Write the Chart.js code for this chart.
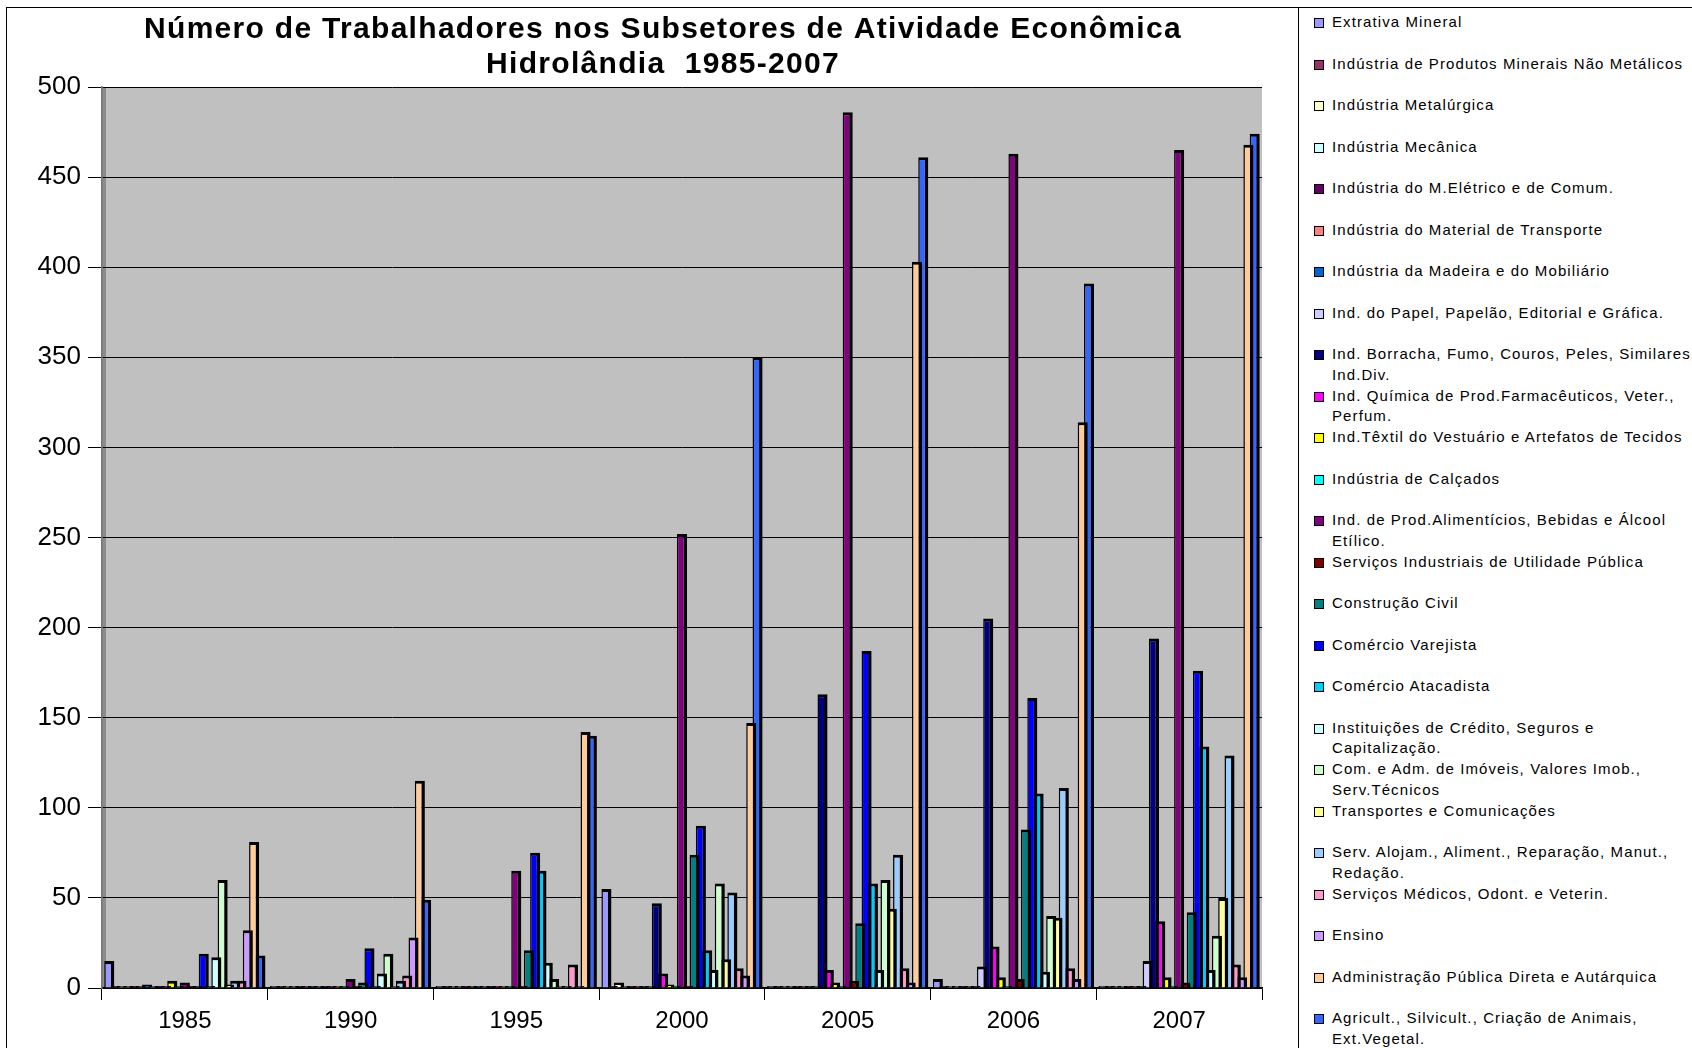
<!DOCTYPE html>
<html>
<head>
<meta charset="utf-8">
<script src="https://cdn.jsdelivr.net/npm/chart.js@4.4.0/dist/chart.umd.min.js"></script>
<style>
  body { margin: 0; background: #fff; font-family: "Liberation Sans", Arial, sans-serif; overflow: hidden; }
  #frame { position: absolute; left: 6px; top: 7px; width: 1292px; height: 1060px; border-left: 1.5px solid #000; border-top: 1.5px solid #000; }
  #wrap { position: absolute; left: 0; top: 0; width: 1298px; height: 1048px; }
  #legend { position: absolute; left: 1298px; top: 7px; width: 420px; height: 1060px; border: 1.5px solid #000; background: #fff; }
  .item { position: absolute; left: 0; height: 41px; }
  .box { position: absolute; left: 15px; top: 6px; width: 8px; height: 8px; border: 1.5px solid #000; }
  .txt { position: absolute; left: 33px; top: 0; font-size: 15px; line-height: 20.5px; white-space: pre; color: #000; letter-spacing: 1.1px; }
</style>
</head>
<body>
<div id="frame"></div>
<div id="wrap"><canvas id="chart" width="1298" height="1048"></canvas></div>
<div id="legend"></div>
<script>
const titleLines = ['Número de Trabalhadores nos Subsetores de Atividade Econômica', 'Hidrolândia  1985-2007'];

const years = ['1985', '1990', '1995', '2000', '2005', '2006', '2007'];

const sectors = [
    'Extrativa Mineral',
    'Indústria de Produtos Minerais Não Metálicos',
    'Indústria Metalúrgica',
    'Indústria Mecânica',
    'Indústria do M.Elétrico e de Comum.',
    'Indústria do Material de Transporte',
    'Indústria da Madeira e do Mobiliário',
    'Ind. do Papel, Papelão, Editorial e Gráfica.',
    'Ind. Borracha, Fumo, Couros, Peles, Similares,\nInd.Div.',
    'Ind. Química de Prod.Farmacêuticos, Veter.,\nPerfum.',
    'Ind.Têxtil do Vestuário e Artefatos de Tecidos',
    'Indústria de Calçados',
    'Ind. de Prod.Alimentícios, Bebidas e Álcool\nEtílico.',
    'Serviços Industriais de Utilidade Pública',
    'Construção Civil',
    'Comércio Varejista',
    'Comércio Atacadista',
    'Instituições de Crédito, Seguros e\nCapitalização.',
    'Com. e Adm. de Imóveis, Valores Imob.,\nServ.Técnicos',
    'Transportes e Comunicações',
    'Serv. Alojam., Aliment., Reparação, Manut.,\nRedação.',
    'Serviços Médicos, Odont. e Veterin.',
    'Ensino',
    'Administração Pública Direta e Autárquica',
    'Agricult., Silvicult., Criação de Animais,\nExt.Vegetal.'
];

const colors = [
    '#9999FF', '#993366', '#FFFFCC', '#CCFFFF', '#660066',
    '#FF8080', '#0066CC', '#CCCCFF', '#000080', '#FF00FF',
    '#FFFF00', '#00FFFF', '#800080', '#800000', '#008080',
    '#0000FF', '#00CCFF', '#CCFFFF', '#CCFFCC', '#FFFF99',
    '#99CCFF', '#FF99CC', '#CC99FF', '#FFCC99', '#3366FF'
];

// one value per sector, in the order of the sectors list
const v1985 = [15, 0, 0, 0, 0, 0, 2, 0, 0, 0, 4, 0, 3, 0, 0, 19, 0, 17, 60, 2, 4, 4, 32, 81, 18];
const v1990 = [0, 0, 1, 0, 0, 0, 0, 0, 0, 0, 0, 0, 5, 0, 3, 22, 0, 8, 19, 0, 4, 7, 28, 115, 49];
const v1995 = [0, 0, 0, 0, 0, 0, 0, 0, 1, 0, 0, 0, 65, 0, 21, 75, 65, 14, 5, 0, 1, 13, 1, 142, 140];
const v2000 = [55, 0, 3, 0, 0, 0, 0, 1, 47, 8, 2, 0, 252, 1, 74, 90, 21, 10, 58, 16, 53, 11, 7, 147, 350];
const v2005 = [0, 0, 0, 0, 0, 0, 0, 0, 163, 10, 3, 0, 486, 4, 36, 187, 58, 10, 60, 44, 74, 11, 3, 403, 461];
const v2006 = [5, 0, 0, 0, 0, 0, 0, 12, 205, 23, 6, 0, 463, 5, 88, 161, 108, 9, 40, 39, 111, 11, 5, 314, 391];
const v2007 = [1, 0, 0, 0, 0, 0, 0, 15, 194, 37, 6, 0, 465, 3, 42, 176, 134, 10, 29, 50, 129, 13, 6, 468, 474];

const byYear = [v1985, v1990, v1995, v2000, v2005, v2006, v2007];

let datasets = [];
for (let i = 0; i < sectors.length; i++) {
    datasets.push({
        label: sectors[i],
        data: byYear.map(row => row[i]),
        backgroundColor: colors[i],
        borderColor: '#000',
        borderWidth: {left: 1.5, top: 3, right: 3.5, bottom: 0},
        borderSkipped: 'start',
        barPercentage: 1.6,
        categoryPercentage: 0.95,
        minBarLength: 2
    });
}

const plotBg = {
    id: 'plotBg',
    beforeDraw(chart) {
        const {ctx, chartArea: a} = chart;
        ctx.save();
        ctx.fillStyle = '#C0C0C0';
        ctx.fillRect(a.left, a.top, a.right - a.left, a.bottom - a.top);
        ctx.fillStyle = '#8c8c8c';
        ctx.fillRect(a.left, a.top, 4, a.bottom - a.top);
        ctx.restore();
    }
};

const titleText = {
    id: 'titleText',
    afterDraw(chart) {
        const ctx = chart.ctx;
        ctx.save();
        ctx.font = 'bold 30px "Liberation Sans", Arial, sans-serif';
        ctx.letterSpacing = '1.3px';
        ctx.fillStyle = '#000';
        ctx.textAlign = 'center';
        ctx.textBaseline = 'middle';
        ctx.fillText(titleLines[0], 663, 30);
        ctx.fillText(titleLines[1], 663, 65);
        ctx.restore();
    }
};

Chart.defaults.font.family = '"Liberation Sans", Arial, sans-serif';
Chart.defaults.color = '#000';

const ctx = document.getElementById('chart').getContext('2d');
new Chart(ctx, {
    type: 'bar',
    data: {labels: years, datasets: datasets},
    options: {
        responsive: false,
        animation: false,
        devicePixelRatio: 1,
        layout: {padding: {left: 8, right: 36, top: 87, bottom: 5}},
        plugins: {
            legend: {display: false},
            tooltip: {enabled: false},
            title: {display: false}
        },
        scales: {
            x: {
                afterFit(scale) { scale.height = 55; },
                grid: {offset: true, drawOnChartArea: false, color: '#000', tickLength: 12, lineWidth: 1},
                border: {display: true, color: '#000', width: 1.5},
                ticks: {font: {size: 24}, padding: 7, color: '#000'}
            },
            y: {
                min: 0,
                max: 500,
                afterFit(scale) { scale.width = 94; },
                ticks: {stepSize: 50, font: {size: 26}, padding: 7, color: '#000'},
                grid: {color: '#000', lineWidth: 1, tickLength: 14},
                border: {display: true, color: '#777', width: 1.5}
            }
        }
    },
    plugins: [plotBg, titleText]
});

// legend built from the sector list
const leg = document.getElementById('legend');
sectors.forEach((name, i) => {
    const item = document.createElement('div');
    item.className = 'item';
    item.style.top = (4 + i * 41.5) + 'px';
    const box = document.createElement('div');
    box.className = 'box';
    box.style.background = colors[i];
    const txt = document.createElement('div');
    txt.className = 'txt';
    txt.textContent = name;
    item.appendChild(box);
    item.appendChild(txt);
    leg.appendChild(item);
});
</script>
</body>
</html>
